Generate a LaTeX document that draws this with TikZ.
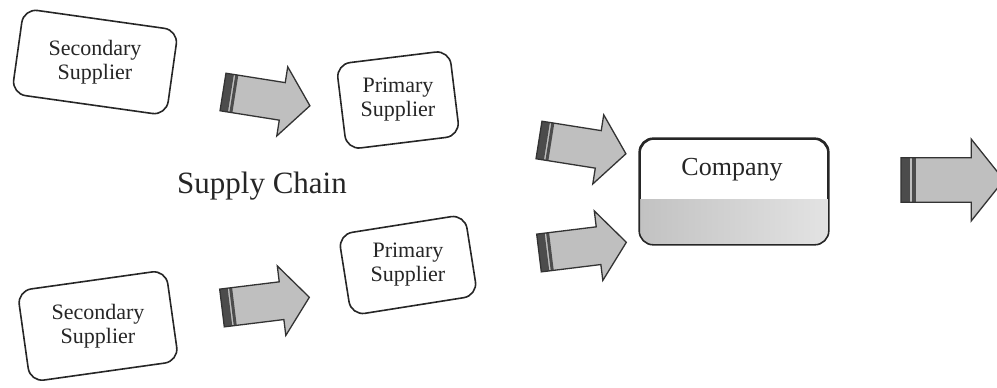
\documentclass[tikz,border=0pt]{standalone}
\usepackage{fontspec}
\setmainfont{Liberation Serif}
\usetikzlibrary{calc}

\tikzset{
  box/.style={draw=black!85, line width=1.6pt, rounded corners=14pt, fill=white},
  boxtext/.style={align=center, font=\fontsize{22}{24}\selectfont, text=black!85},
  arrowfill/.style={fill=black!25},
  arrowline/.style={draw=black!80, line width=1.3pt, line join=miter},
  stripedark/.style={fill=black!70},
  companyshade/.style={left color=black!24, right color=black!11},
  pics/blockarrow/.style={code={
    \fill[arrowfill] (0,-19) -- (60,-19) -- (60,-35) -- (88,0) -- (60,35) -- (60,19) -- (0,19) -- cycle;
    \fill[stripedark] (0,-19) rectangle (8,19);
    \fill[stripedark] (9.5,-19) rectangle (12.5,19);
    \draw[arrowline] (0,-19) -- (60,-19) -- (60,-35) -- (88,0) -- (60,35) -- (60,19) -- (0,19) -- cycle;
  }}
}

\begin{document}
\begin{tikzpicture}[x=1pt, y=-1pt]
  \useasboundingbox (0,0) rectangle (997,388);
  \clip (0,0) rectangle (997,388);

  % supplier boxes (frames tilted, labels upright)
  \node[box, rotate=-8, minimum width=156pt, minimum height=86pt] (s1) at (95,62) {};
  \node[boxtext] (s1t) at (s1.center) {Secondary\\Supplier};

  \node[box, rotate=7, minimum width=114pt, minimum height=86pt] (p1) at (398,100) {};
  \node[boxtext] (p1t) at (p1.center) {Primary\\Supplier};

  \node[box, rotate=9, minimum width=128pt, minimum height=82pt] (p2) at (408,265) {};
  \node[boxtext] (p2t) at (p2.center) {Primary\\Supplier};

  \node[box, rotate=8, minimum width=150pt, minimum height=92pt] (s2) at (98,326) {};
  \node[boxtext] (s2t) at (s2.center) {Secondary\\Supplier};

  % company box with shaded lower part
  \node[box, minimum width=188pt, minimum height=105pt] (co) at (734,191.5) {};
  \begin{scope}
    \clip[rounded corners=14pt] (co.south west) rectangle (co.north east);
    \shade[companyshade] (co.south west) rectangle ($(co.east)+(0,8)$);
  \end{scope}
  \draw[box, fill=none] (co.south west) rectangle (co.north east);
  \node[font=\fontsize{26}{28}\selectfont, text=black!85] (cot) at (732,170) {Company};

  % title
  \node[font=\fontsize{31}{33}\selectfont, text=black!85] (title) at (262,186) {Supply Chain};

  % block arrows
  \pic[rotate=-9] (a1) at (223,92) {blockarrow};
  \pic[rotate=7] (a5) at (222,308) {blockarrow};
  \pic[rotate=-9] (a2) at (539,140) {blockarrow};
  \pic[rotate=7] (a3) at (539,253) {blockarrow};
  \pic[scale=1.17] (a4) at (901,180) {blockarrow};
\end{tikzpicture}
\end{document}
